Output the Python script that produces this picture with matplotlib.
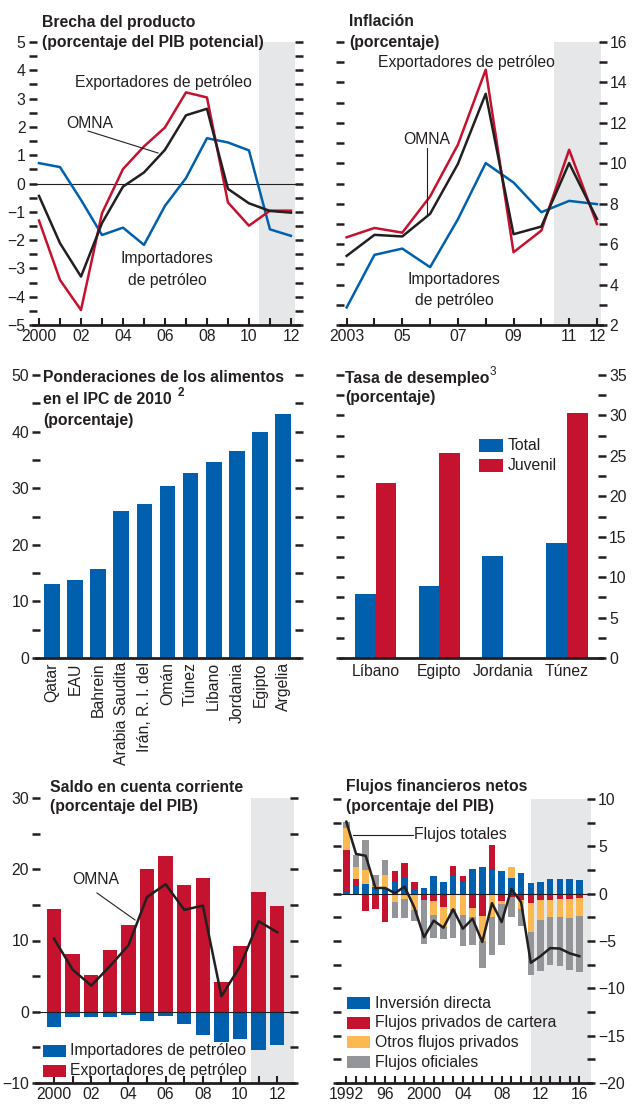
import numpy as np
import matplotlib
matplotlib.use("Agg")
import matplotlib.pyplot as plt
from matplotlib.patches import Rectangle
from matplotlib.lines import Line2D

plt.rcParams['font.family'] = ['Liberation Sans', 'DejaVu Sans']

# ---- data ----
# Brecha del producto
gap_years = list(range(2000, 2013))
gap_import = [0.72, 0.58, -0.58, -1.82, -1.56, -2.17, -0.79, 0.19, 1.60, 1.45, 1.17, -1.62, -1.85]
gap_export = [-1.31, -3.41, -4.47, -1.05, 0.51, 1.31, 1.98, 3.22, 3.04, -0.67, -1.49, -0.96, -0.96]
gap_omna = [-0.44, -2.11, -3.29, -1.40, -0.11, 0.39, 1.19, 2.41, 2.64, -0.19, -0.70, -0.97, -1.03]

# Inflacion
inf_years = list(range(2003, 2013))
inf_import = [2.87, 5.47, 5.78, 4.86, 7.23, 10.01, 9.05, 7.58, 8.14, 7.98]
inf_export = [6.34, 6.80, 6.57, 8.36, 10.92, 14.63, 5.60, 6.67, 10.67, 7.00]
inf_omna = [5.42, 6.46, 6.38, 7.50, 9.97, 13.44, 6.49, 6.87, 10.01, 7.25]

# Ponderaciones de los alimentos
food_countries = ["Qatar", "EAU", "Bahrein", "Arabia Saudita", "Irán, R. I. del", "Omán",
                  "Túnez", "Líbano", "Jordania", "Egipto", "Argelia"]
food_weights = [13.1, 13.8, 15.8, 26.0, 27.2, 30.4, 32.7, 34.6, 36.6, 39.9, 43.1]

# Tasa de desempleo
unemp_countries = ["Líbano", "Egipto", "Jordania", "Túnez"]
unemp_total = [7.95, 8.93, 12.64, 14.24]
unemp_youth = [21.65, 25.36, np.nan, 30.30]

# Saldo en cuenta corriente
ca_years = list(range(2000, 2013))
ca_import = [-2.17, -0.77, -0.77, -0.77, -0.39, -1.33, -0.53, -1.65, -3.2, -4.27, -3.8, -5.3, -4.6]
ca_export = [14.47, 8.16, 5.21, 8.71, 12.13, 20.07, 21.9, 17.83, 18.81, 4.14, 9.28, 16.85, 14.89]
ca_omna = [10.26, 5.91, 3.67, 6.38, 9.33, 16.1, 17.9, 14.3, 14.9, 2.17, 6.38, 12.7, 11.16]

# Flujos financieros netos
ff_years = list(range(1992, 2017))
ff_fdi = [0.32, 0.95, 1.06, 0.67, 0.6, 1.23, 1.62, 0.39, 0.63, 1.83, 1.2, 1.9, 1.2,
          2.64, 2.85, 2.5, 2.43, 1.69, 2.22, 1.16, 1.27, 1.59, 1.59, 1.59, 1.45]
ff_portfolio = [4.33, 0.64, -1.87, -1.62, -3.03, 1.17, 1.62, 0.88, -0.67, -0.81, -1.37, 0.99, 0.63,
                -1.55, -2.33, 2.68, -0.81, -0.3, -0.67, -1.02, -0.63, -0.63, -0.53, -0.53, -0.42]
ff_other = [2.25, 1.27, 1.48, 0.15, 1.4, -0.92, -0.56, -1.7, -0.05, -1.41, -2.15, -1.66, -2.22,
            -0.95, -2.64, -2.43, -0.25, 1.16, -0.99, -3.0, -2.12, -1.8, -1.9, -2.04, -1.91]
ff_official = [0.64, 1.27, 3.13, 1.2, 1.6, -1.65, -2.0, -1.23, -4.55, -2.5, -1.3, -3.06, -3.35,
               -2.96, -2.93, -4.09, -4.4, -2.14, -1.72, -4.55, -5.39, -5.07, -5.18, -5.47, -5.95]
ff_total = [7.6, 4.2, 4.0, 0.6, 0.6, 0.05, 0.75, -1.45, -4.6, -2.85, -3.6, -1.65, -3.7,
            -2.65, -5.1, -1.0, -3.0, 0.5, -0.9, -7.3, -6.6, -5.75, -5.8, -6.3, -6.6]

# ---- style ----
BLUE = '#0060AE'
RED = '#C4122F'
YELLOW = '#FDB951'
GRAY = '#939598'
SHADE = '#E6E7E8'
TXT = '#231F20'
FS = 11.3

W, H = 633, 1104
fig = plt.figure(figsize=(W / 100, H / 100), dpi=100)


def box(l, t, r, b):
    return [l / W, 1 - b / H, (r - l) / W, (b - t) / H]


def ftext(x, y, s, **kw):
    kw.setdefault('fontsize', FS)
    kw.setdefault('color', TXT)
    kw.setdefault('va', 'center')
    fig.text(x / W, 1 - y / H, s, **kw)


def fline(x0, y0, x1, y1, lw=0.8):
    fig.add_artist(Line2D([x0 / W, x1 / W], [1 - y0 / H, 1 - y1 / H], color=TXT, lw=lw))


def fpatch(x0, y0, x1, y1, color):
    fig.add_artist(Rectangle((x0 / W, 1 - y1 / H), (x1 - x0) / W, (y1 - y0) / H,
                             color=color, transform=fig.transFigure, lw=0))


def style(ax, side, major, minor):
    for s in ['left', 'right', 'top']:
        ax.spines[s].set_visible(False)
    ax.spines['bottom'].set_linewidth(2)
    ax.spines['bottom'].set_color(TXT)
    ax.set_yticks(major)
    ax.set_yticks(minor, minor=True)
    ax.tick_params(axis='y', which='both', left=True, right=True, direction='inout',
                   length=6, width=1.8, color=TXT, labelsize=FS, labelcolor=TXT,
                   labelleft=(side == 'left'), labelright=(side == 'right'), pad=2)
    ax.tick_params(axis='x', which='both', direction='in', length=5, width=1.5,
                   color=TXT, labelsize=FS, labelcolor=TXT, pad=3)


# ---- panel 1: Brecha del producto ----
ax1 = fig.add_axes(box(32.5, 42, 298.5, 325))
ax1.axvspan(2010.5, 2012.2, color=SHADE, lw=0)
ax1.axhline(0, color=TXT, lw=0.8)
ax1.plot(gap_years, gap_import, color=BLUE, lw=1.8)
ax1.plot(gap_years, gap_export, color=RED, lw=1.8)
ax1.plot(gap_years, gap_omna, color=TXT, lw=1.8)
ax1.set_xlim(1999.69, 2012.36)
ax1.set_ylim(-5, 5)
style(ax1, 'left', range(-5, 6), np.arange(-4.5, 5, 1.0))
ax1.set_xticks(gap_years)
ax1.set_xticklabels(["2000" if y == 2000 else (f"{y % 100:02d}" if y % 2 == 0 else "") for y in gap_years])
ftext(42, 22, "Brecha del producto", fontweight='bold')
ftext(42, 43, "(porcentaje del PIB potencial)", fontweight='bold')
ftext(163, 82, "Exportadores de petróleo", ha='center')
ftext(90, 123, "OMNA", ha='center')
fline(88, 131, 158, 153)
ftext(167, 259, "Importadores", ha='center')
ftext(167, 280, "de petróleo", ha='center')

# ---- panel 2: Inflacion ----
ax2 = fig.add_axes(box(340, 42, 602.5, 325))
ax2.axvspan(2010.45, 2012.15, color=SHADE, lw=0)
ax2.plot(inf_years, inf_import, color=BLUE, lw=1.8)
ax2.plot(inf_years, inf_export, color=RED, lw=1.8)
ax2.plot(inf_years, inf_omna, color=TXT, lw=1.8)
ax2.set_xlim(2002.76, 2012.2)
ax2.set_ylim(2, 16)
style(ax2, 'right', range(2, 17, 2), range(3, 16, 2))
ax2.set_xticks(inf_years)
inf_lab = {2003: "2003", 2005: "05", 2007: "07", 2009: "09", 2011: "11", 2012: "12"}
ax2.set_xticklabels([inf_lab.get(y, "") for y in inf_years])
ftext(349, 22, "Inflación", fontweight='bold')
ftext(349, 42, "(porcentaje)", fontweight='bold')
ftext(466, 62, "Exportadores de petróleo", ha='center')
ftext(427, 140, "OMNA", ha='center')
fline(427, 148, 427, 216)
ftext(454, 279, "Importadores", ha='center')
ftext(454, 301, "de petróleo", ha='center')

# ---- panel 3: Ponderaciones de los alimentos ----
ax3 = fig.add_axes(box(36, 375, 299, 658))
ax3.bar(range(len(food_countries)), food_weights, width=0.68, color=BLUE)
ax3.set_xlim(-0.69, 10.69)
ax3.set_ylim(0, 50)
style(ax3, 'left', range(0, 51, 10), range(5, 50, 10))
ax3.set_xticks(range(len(food_countries)))
ax3.set_xticklabels(food_countries, rotation=90, va='top', ha='center')
ax3.tick_params(axis='x', length=0, pad=3)
ftext(43, 377, "Ponderaciones de los alimentos", fontweight='bold')
ftext(43, 399, "en el IPC de 2010", fontweight='bold')
ftext(178, 393, "2", fontsize=8.5, fontweight='bold')
ftext(43, 420, "(porcentaje)", fontweight='bold')

# ---- panel 4: Tasa de desempleo ----
ax4 = fig.add_axes(box(340, 375, 602, 658))
idx = np.arange(len(unemp_countries))
bw = 0.325
ax4.bar(idx - bw / 2, unemp_total, width=bw, color=BLUE)
ax4.bar(idx + bw / 2, unemp_youth, width=bw, color=RED)
ax4.set_xlim(-0.56, 3.55)
ax4.set_ylim(0, 35)
style(ax4, 'right', range(0, 36, 5), np.arange(2.5, 35, 5))
ax4.set_xticks(idx)
ax4.set_xticklabels(unemp_countries)
ax4.tick_params(axis='x', length=0, pad=4)
ftext(345, 378, "Tasa de desempleo", fontweight='bold')
ftext(490, 372, "3", fontsize=8.5)
ftext(345, 398, "(porcentaje)", fontweight='bold')
fpatch(479, 439, 503, 452, BLUE)
fpatch(479, 459, 503, 472, RED)
ftext(508, 446, "Total")
ftext(508, 466, "Juvenil")

# ---- panel 5: Saldo en cuenta corriente ----
ax5 = fig.add_axes(box(36, 798, 294, 1083))
ax5.axvspan(2010.6, 2013.2, color=SHADE, lw=0)
ax5.bar(ca_years, ca_export, width=0.77, color=RED)
ax5.bar(ca_years, ca_import, width=0.77, color=BLUE)
ax5.axhline(0, color=TXT, lw=0.8)
ax5.plot(ca_years, ca_omna, color=TXT, lw=1.8)
ax5.set_xlim(1999.03, 2012.9)
ax5.set_ylim(-10, 30)
style(ax5, 'left', range(-10, 31, 10), range(-5, 30, 10))
ax5.set_xticks(ca_years)
ax5.set_xticklabels(["2000" if y == 2000 else (f"{y % 100:02d}" if y % 2 == 0 else "") for y in ca_years])
ftext(50, 787, "Saldo en cuenta corriente", fontweight='bold')
ftext(50, 807, "(porcentaje del PIB)", fontweight='bold')
ftext(96, 880, "OMNA", ha='center')
fline(97, 893, 135, 920)
fpatch(43, 1045, 66, 1057, BLUE)
fpatch(43, 1065, 66, 1077, RED)
ftext(70, 1051, "Importadores de petróleo")
ftext(70, 1071, "Exportadores de petróleo")

# ---- panel 6: Flujos financieros netos ----
ax6 = fig.add_axes(box(337, 799, 591, 1083))
ax6.axvspan(2011.0, 2018, color=SHADE, lw=0)
pos_b = np.zeros(len(ff_years))
neg_b = np.zeros(len(ff_years))
for vals, col in [(ff_fdi, BLUE), (ff_portfolio, RED), (ff_other, YELLOW), (ff_official, GRAY)]:
    v = np.array(vals)
    p = np.where(v > 0, v, 0)
    n = np.where(v < 0, v, 0)
    ax6.bar(ff_years, p, bottom=pos_b, width=0.67, color=col, lw=0)
    ax6.bar(ff_years, n, bottom=neg_b, width=0.67, color=col, lw=0)
    pos_b += p
    neg_b += n
ax6.axhline(0, color=TXT, lw=0.8)
ax6.plot(ff_years, ff_total, color=TXT, lw=1.8)
ax6.set_xlim(1991.04, 2017.2)
ax6.set_ylim(-20, 10)
style(ax6, 'right', range(-20, 11, 5), np.arange(-17.5, 10, 5))
ax6.set_xticks(ff_years)
ff_lab = {1992: "1992", 1996: "96", 2000: "2000", 2004: "04", 2008: "08", 2012: "12", 2016: "16"}
ax6.set_xticklabels([ff_lab.get(y, "") for y in ff_years])
ftext(346, 786, "Flujos financieros netos", fontweight='bold')
ftext(346, 806, "(porcentaje del PIB)", fontweight='bold')
fline(353, 835, 413, 835)
ftext(414, 834, "Flujos totales")
legend6 = [("Inversión directa", BLUE), ("Flujos privados de cartera", RED),
           ("Otros flujos privados", YELLOW), ("Flujos oficiales", GRAY)]
for i, (lab, col) in enumerate(legend6):
    y0 = 997 + i * 19.7
    fpatch(347, y0, 370, y0 + 12, col)
    ftext(375, y0 + 6, lab)

fig.savefig("out.png", dpi=100)
